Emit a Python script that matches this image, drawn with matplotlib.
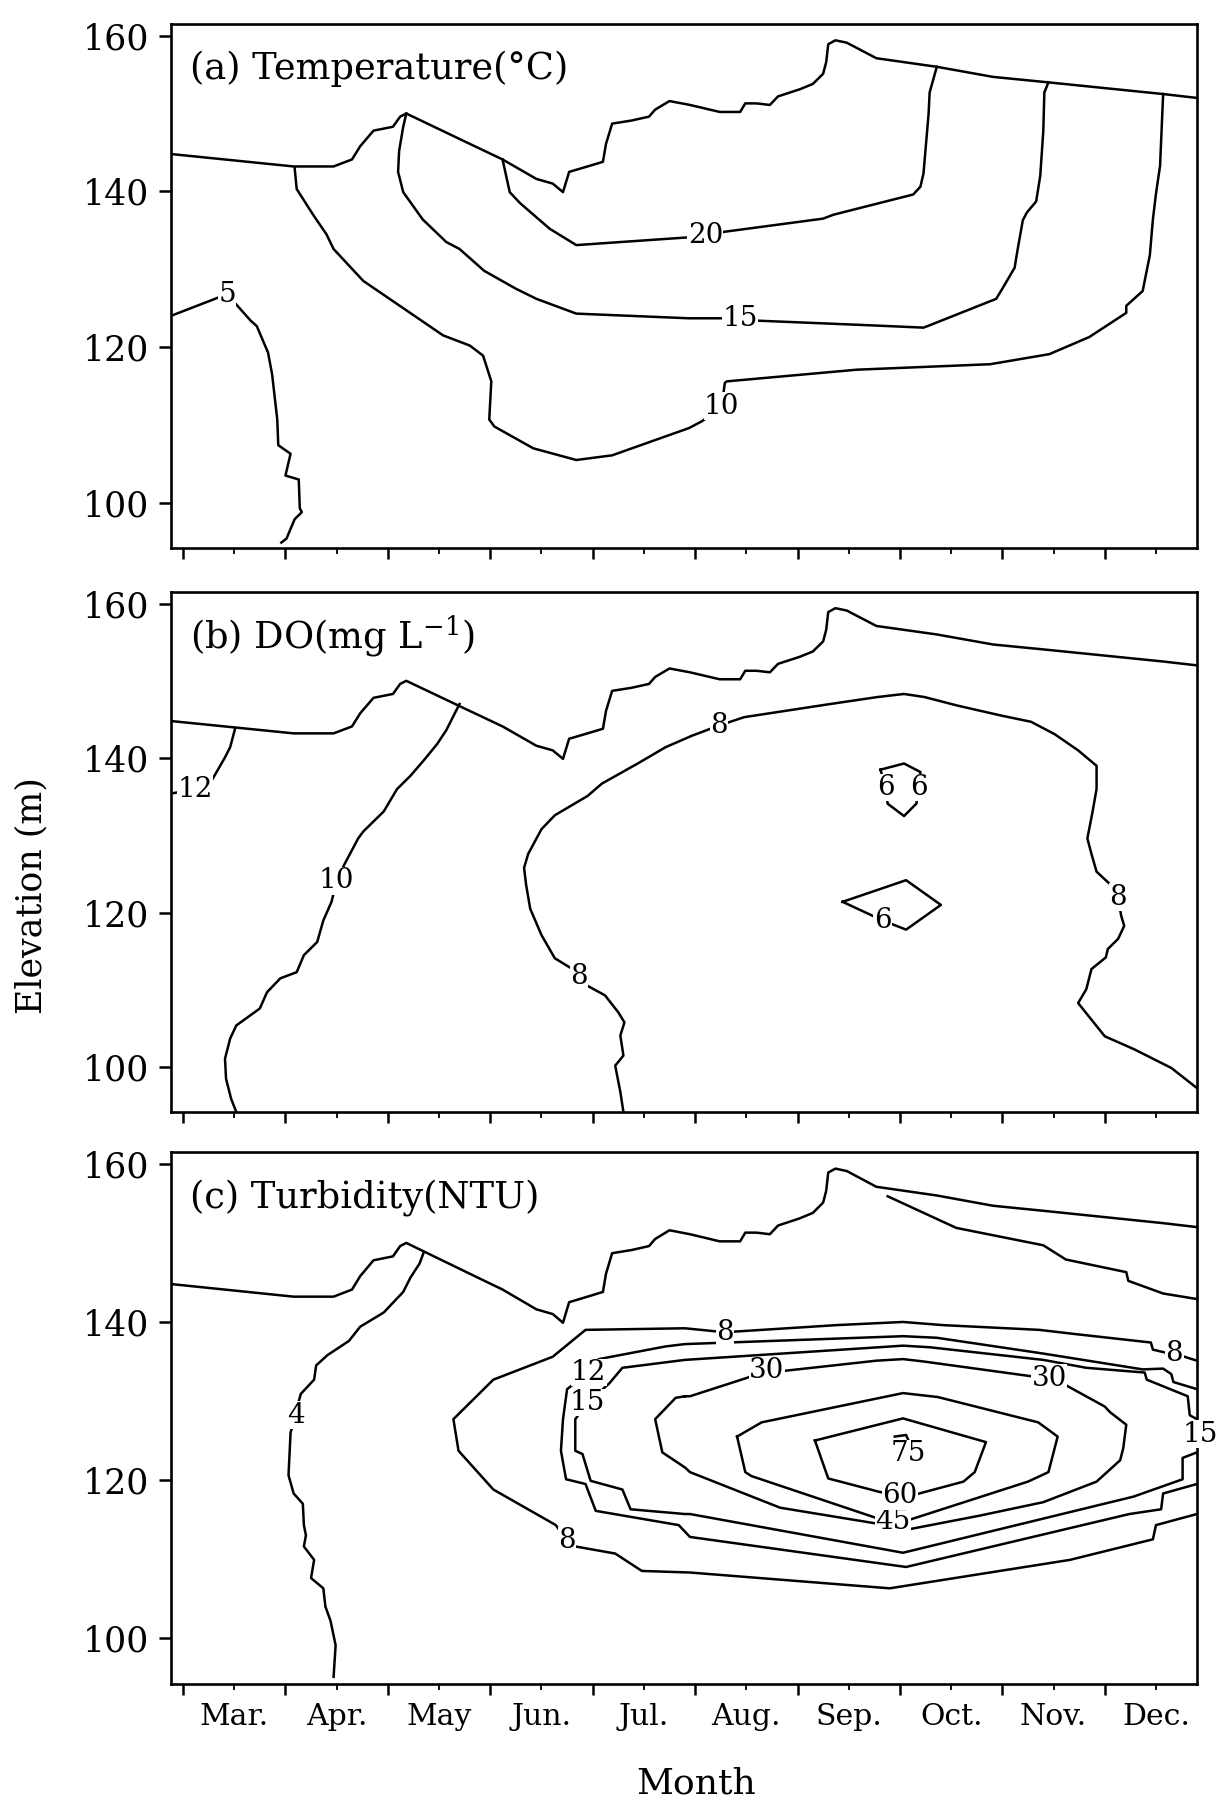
import numpy as np
import matplotlib
matplotlib.use('Agg')
import matplotlib.pyplot as plt

plt.rcParams['font.family'] = ['DejaVu Serif']
plt.rcParams['mathtext.fontset'] = 'dejavuserif'

# x axis in months (3 = 1 March ... 12 = 1 December)
months = ['Mar.', 'Apr.', 'May', 'Jun.', 'Jul.', 'Aug.', 'Sep.', 'Oct.', 'Nov.', 'Dec.']
yticks = [100, 120, 140, 160]

# water surface (same in all panels)
surf_m = [2.88, 4.08, 4.47, 4.65, 4.73, 4.86, 5.05, 5.12, 5.18, 5.80, 6.12, 6.45, 6.61, 6.71,
          6.77, 7.0, 7.1, 7.13, 7.19, 7.38, 7.55, 7.61, 7.75, 7.95, 8.24, 8.44, 8.49, 8.60,
          8.73, 8.81, 9.02, 9.15, 9.25, 9.28, 9.30, 9.37, 9.48, 9.77, 10.36, 10.91, 11.45,
          12.57, 12.90]
surf_e = [144.8, 143.2, 143.2, 144.1, 145.8, 147.8, 148.3, 149.6, 150.0, 146.1, 144.1, 141.6,
          141.0, 139.9, 142.5, 143.4, 143.8, 146.1, 148.7, 149.1, 149.6, 150.5, 151.6, 151.1,
          150.2, 150.2, 151.3, 151.3, 151.1, 152.2, 153.1, 153.8, 155.1, 156.6, 158.9, 159.4,
          159.1, 157.1, 156.0, 154.7, 154.0, 152.5, 152.0]

# (a) temperature
t5_m = [2.88, 3.43, 3.66, 3.72, 3.83, 3.87, 3.92, 3.93, 4.05, 4.00, 4.13, 4.14, 4.16, 4.09, 4.01, 3.96]
t5_e = [124.0, 126.8, 123.4, 122.7, 119.3, 116.5, 110.7, 107.4, 106.3, 103.5, 103.0, 99.3, 98.8, 97.9, 95.4, 94.9]
t10_m = [4.09, 4.11, 4.27, 4.40, 4.47, 4.76, 5.15, 5.54, 5.80, 5.93, 6.01, 5.99, 6.04, 6.42, 6.84,
         7.19, 7.94, 8.07, 8.26, 8.29, 8.31, 9.58, 10.88, 11.46, 11.85, 12.21, 12.21, 12.37, 12.44,
         12.47, 12.50, 12.54, 12.57]
t10_e = [143.0, 140.3, 137.0, 134.5, 132.6, 128.5, 125.0, 121.5, 120.2, 118.9, 115.6, 110.7, 109.8,
         107.0, 105.5, 106.1, 109.6, 110.5, 112.4, 115.4, 115.6, 117.1, 117.8, 119.1, 121.3, 124.4,
         125.3, 127.2, 131.8, 136.4, 139.7, 143.3, 152.5]
t15_m = [5.18, 5.15, 5.11, 5.10, 5.15, 5.34, 5.57, 5.70, 5.94, 6.25, 6.45, 6.84, 7.94, 8.44, 8.60,
         9.71, 10.23, 10.29, 10.94, 11.0, 11.12, 11.15, 11.20, 11.24, 11.33, 11.37, 11.40, 11.41, 11.45]
t15_e = [150.0, 148.3, 145.2, 142.5, 139.9, 136.4, 133.5, 132.6, 129.8, 127.5, 126.2, 124.3, 123.7,
         123.7, 123.4, 122.8, 122.5, 122.8, 126.2, 127.5, 130.2, 132.6, 136.3, 137.3, 138.7, 142.0,
         147.8, 152.7, 154.0]
t20_m = [6.12, 6.19, 6.29, 6.58, 6.84, 7.94, 8.10, 8.28, 9.25, 9.35, 10.13, 10.20, 10.23, 10.28, 10.29, 10.36]
t20_e = [144.1, 139.9, 138.5, 135.2, 133.1, 134.1, 134.3, 134.8, 136.5, 137.0, 139.6, 140.6, 142.3,
         150.0, 152.7, 156.0]
temp_labels = [('5', 3.43, 126.8), ('10', 8.26, 112.4), ('15', 8.44, 123.7), ('20', 8.10, 134.3)]

# (b) dissolved oxygen
d12_m = [3.51, 3.46, 3.41, 3.28, 3.12, 2.88]
d12_e = [143.9, 141.4, 140.1, 137.1, 136.0, 135.4]
d10_m = [5.70, 5.65, 5.57, 5.48, 5.35, 5.22, 5.09, 4.96, 4.76, 4.71, 4.57, 4.50, 4.45, 4.37, 4.31,
         4.18, 4.11, 3.95, 3.82, 3.75, 3.52, 3.46, 3.41, 3.42, 3.47, 3.52]
d10_e = [147.0, 145.7, 143.6, 141.8, 139.7, 137.7, 136.0, 133.1, 130.5, 129.6, 126.1, 124.1, 121.4,
         119.0, 116.2, 114.5, 112.3, 111.5, 109.7, 107.6, 105.4, 103.7, 101.1, 98.5, 95.9, 94.2]
d8_m = [7.30, 7.27, 7.22, 7.30, 7.27, 7.31, 7.25, 7.12, 6.94, 6.87, 6.79, 6.63, 6.50, 6.39, 6.35,
        6.33, 6.37, 6.50, 6.63, 6.95, 7.09, 7.44, 7.71, 7.97, 8.23, 8.48, 9.32, 9.78, 10.04, 10.24,
        10.56, 10.99, 11.28, 11.51, 11.74, 11.92, 11.92, 11.88, 11.83, 11.87, 11.92, 12.05, 12.13,
        12.16, 12.19, 12.13, 12.03, 12.01, 11.87, 11.82, 11.74, 12.0, 12.29, 12.65, 12.90]
d8_e = [94.2, 96.8, 100.2, 101.5, 104.1, 105.8, 107.1, 109.3, 110.6, 111.8, 112.8, 114.1, 117.1,
        120.5, 123.6, 125.8, 127.6, 130.8, 132.6, 135.1, 136.7, 139.3, 141.4, 142.9, 144.2, 145.3,
        147.0, 147.9, 148.3, 147.9, 146.8, 145.5, 144.7, 143.1, 141.0, 139.0, 136.0, 133.0, 129.6,
        127.6, 125.3, 123.7, 122.0, 119.6, 118.3, 116.6, 115.3, 114.2, 112.7, 110.1, 108.3, 104.0,
        102.3, 99.9, 97.3]
d6a_m = [9.81, 10.04, 10.20, 10.19, 10.16, 10.04, 9.88, 9.86, 9.81]
d6a_e = [138.5, 139.3, 138.2, 136.2, 134.1, 132.5, 134.1, 136.2, 138.5]
d6b_m = [9.44, 10.06, 10.40, 10.06, 9.83, 9.44]
d6b_e = [121.4, 124.2, 121.0, 117.8, 119.0, 121.4]
do_labels = [('12', 3.12, 136.0), ('10', 4.50, 124.1), ('8', 6.87, 111.8), ('8', 8.23, 144.2),
             ('8', 12.13, 122.0), ('6', 9.86, 136.2), ('6', 10.19, 136.2), ('6', 9.83, 119.0)]

# (c) turbidity
c4_m = [5.35, 5.31, 5.22, 5.15, 4.96, 4.73, 4.62, 4.41, 4.30, 4.28, 4.15, 4.12, 4.10, 4.05, 4.03,
        4.08, 4.17, 4.18, 4.20, 4.18, 4.28, 4.25, 4.37, 4.39, 4.44, 4.49, 4.47]
c4_e = [148.8, 147.4, 145.6, 143.8, 141.2, 139.4, 137.6, 135.8, 134.5, 132.7, 130.9, 129.5, 128.2,
        126.0, 120.6, 118.3, 117.0, 114.3, 113.0, 111.6, 109.9, 107.6, 106.3, 104.0, 102.2, 99.1, 95.1]
c4b_m = [9.88, 10.55, 11.40, 11.62, 12.21, 12.23, 12.57, 12.90]
c4b_e = [155.9, 151.9, 149.7, 147.9, 146.3, 145.2, 143.6, 142.9]
c8_m = [12.90, 12.50, 12.47, 11.66, 9.90, 7.95, 7.48, 7.22, 6.83, 6.75, 6.64, 6.03, 5.69, 5.64,
        6.03, 6.61, 6.93, 7.90, 8.29, 9.38, 10.03, 10.42, 11.36, 11.69, 12.45, 12.47, 12.60, 12.68, 12.90]
c8_e = [115.7, 114.3, 112.5, 109.9, 106.3, 108.3, 108.5, 110.7, 111.6, 112.3, 114.3, 118.8, 123.7,
        127.7, 132.7, 135.6, 139.0, 139.2, 138.7, 139.6, 140.0, 139.6, 139.0, 138.5, 137.4, 136.5,
        136.1, 136.0, 135.1]
c12_m = [12.90, 12.57, 12.55, 12.24, 10.06, 7.95, 7.84, 7.03, 6.93, 6.74, 6.69, 6.71, 6.75, 6.96,
         7.06, 7.71, 7.90, 10.03, 10.36, 11.40, 12.37, 12.57, 12.65, 12.67, 12.90]
c12_e = [119.5, 118.3, 116.3, 115.7, 109.0, 112.8, 114.3, 116.1, 119.5, 120.1, 123.7, 127.7, 131.5,
         133.6, 135.3, 136.9, 137.2, 138.2, 138.0, 136.0, 134.0, 134.1, 133.4, 132.4, 131.5]
c15_m = [12.90, 12.76, 12.76, 12.28, 10.03, 7.95, 7.90, 7.37, 7.29, 6.98, 6.90, 6.83, 6.83, 6.95,
         7.16, 7.29, 7.90, 10.03, 10.29, 11.40, 11.82, 12.39, 12.41, 12.81, 12.83, 12.90]
c15_e = [123.5, 122.8, 120.1, 117.9, 110.8, 115.7, 115.7, 116.3, 118.8, 119.9, 123.3, 123.7, 127.7,
         129.8, 132.2, 134.2, 135.2, 137.0, 136.8, 135.2, 134.2, 133.6, 132.7, 130.6, 128.2, 127.7]
c30_m = [7.90, 7.81, 7.61, 7.68, 7.90, 7.95, 8.83, 9.77, 10.03, 10.10, 10.78, 11.40, 11.92, 12.15,
         12.18, 12.21, 12.05, 12.0, 11.62, 11.46, 11.30, 10.23, 10.03, 9.77, 8.86, 8.70, 8.50, 7.95, 7.90]
c30_e = [130.6, 130.4, 127.7, 123.5, 121.6, 121.0, 116.5, 114.5, 113.8, 113.8, 115.5, 117.2, 119.8,
         122.5, 124.0, 127.0, 128.6, 129.3, 132.0, 132.9, 133.1, 135.0, 135.3, 135.1, 133.8, 133.8,
         132.9, 130.6, 130.6]
c45_m = [8.41, 8.65, 10.03, 10.37, 11.35, 11.54, 11.45, 11.25, 10.10, 9.93, 9.77, 8.55, 8.49, 8.41]
c45_e = [125.5, 127.3, 131.0, 130.5, 127.3, 125.5, 121.0, 119.8, 115.0, 114.8, 115.2, 120.5, 121.0, 125.5]
c60_m = [9.17, 10.03, 10.84, 10.73, 10.62, 10.16, 10.0, 9.80, 9.30, 9.17]
c60_e = [125.0, 127.8, 124.8, 121.0, 119.8, 118.2, 118.0, 118.5, 120.2, 125.0]
c75_m = [9.95, 10.06, 10.08]
c75_e = [125.5, 125.7, 125.1]
turb_labels = [('4', 4.10, 128.2), ('8', 6.75, 112.3), ('8', 8.29, 138.7), ('8', 12.68, 136.0),
               ('12', 6.96, 133.6), ('15', 6.95, 129.8), ('15', 12.93, 125.8), ('30', 8.70, 133.8),
               ('30', 11.46, 132.9), ('45', 9.93, 114.8), ('60', 10.0, 118.0), ('75', 10.08, 123.3)]

panels = [
    ('(a) Temperature(°C)', [(t5_m, t5_e), (t10_m, t10_e), (t15_m, t15_e), (t20_m, t20_e)], temp_labels),
    ('(b) DO(mg L$^{-1}$)', [(d12_m, d12_e), (d10_m, d10_e), (d8_m, d8_e), (d6a_m, d6a_e),
                            (d6b_m, d6b_e)], do_labels),
    ('(c) Turbidity(NTU)', [(c4_m, c4_e), (c4b_m, c4b_e), (c8_m, c8_e), (c12_m, c12_e),
                           (c15_m, c15_e), (c30_m, c30_e), (c45_m, c45_e), (c60_m, c60_e),
                           (c75_m, c75_e)], turb_labels),
]

fig = plt.figure(figsize=(12.2, 18.02), dpi=100)
rects = [[0.1402, 0.6959, 0.8409, 0.2908],
         [0.1402, 0.3829, 0.8409, 0.2886],
         [0.1402, 0.0655, 0.8409, 0.2952]]

for i, (title, lines, labels) in enumerate(panels):
    ax = fig.add_axes(rects[i])
    ax.plot(surf_m, surf_e, 'k-', lw=1.8)
    for m, e in lines:
        ax.plot(m, e, 'k-', lw=1.8)
    for s, m, e in labels:
        ax.text(m, e, s, ha='center', va='center', fontsize=20, zorder=4, clip_on=False,
                bbox=dict(facecolor='white', edgecolor='none', pad=0.3))
    ax.text(0.018, 0.915, title, transform=ax.transAxes, fontsize=26.5, va='center', ha='left')
    ax.set_xlim(2.883, 12.90)
    ax.set_ylim(94.2, 161.5)
    ax.set_yticks(yticks)
    ax.set_xticks(np.arange(3, 13))
    ax.set_xticks(np.arange(3.5, 13, 1), minor=True)
    ax.set_xticklabels([])
    if i == 2:
        ax.set_xticklabels(months, minor=True)
    ax.tick_params(axis='y', which='major', direction='out', length=9, width=1.8, pad=7, labelsize=25)
    ax.tick_params(axis='x', which='major', direction='out', length=8, width=1.8)
    ax.tick_params(axis='x', which='minor', direction='out', length=4, width=1.3, pad=10, labelsize=21.5)
    for sp in ax.spines.values():
        sp.set_linewidth(1.9)

fig.text(0.026, 0.503, 'Elevation (m)', rotation=90, ha='center', va='center', fontsize=25)
fig.text(0.571, 0.010, 'Month', ha='center', va='center', fontsize=26)

plt.savefig('out.png', dpi=100)
